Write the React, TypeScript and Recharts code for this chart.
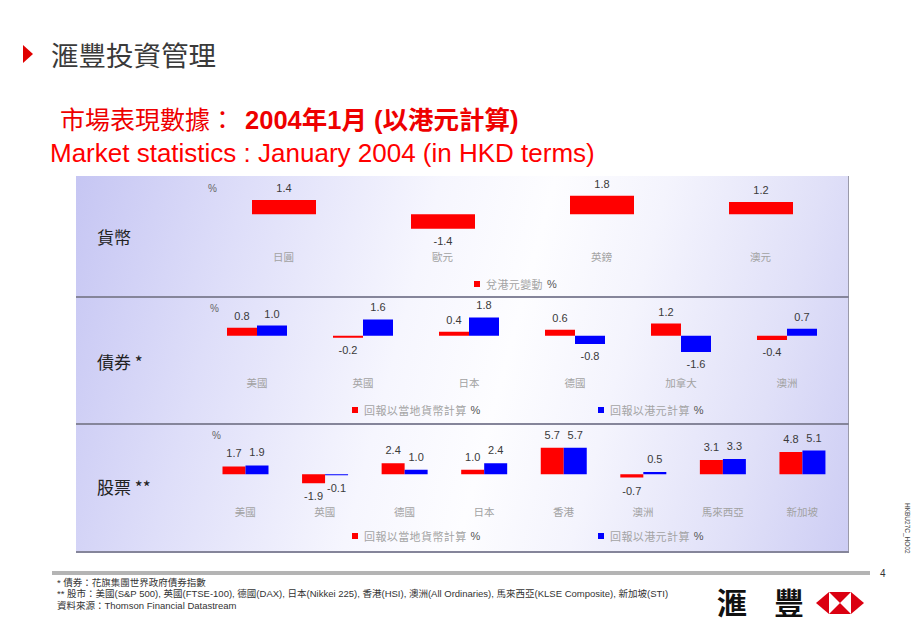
import React from 'react';
import { BarChart, Bar, XAxis, YAxis, LabelList } from 'recharts';

// ---------- data ----------
const currencyCategories = ['日圓', '歐元', '英鎊', '澳元'];
const currencyChange = [1.4, -1.4, 1.8, 1.2];

const bondCategories = ['美國', '英國', '日本', '德國', '加拿大', '澳洲'];
const bondLocal = [0.8, -0.2, 0.4, 0.6, 1.2, -0.4];
const bondHKD = [1.0, 1.6, 1.8, -0.8, -1.6, 0.7];

const equityCategories = ['美國', '英國', '德國', '日本', '香港', '澳洲', '馬來西亞', '新加坡'];
const equityLocal = [1.7, -1.9, 2.4, 1.0, 5.7, -0.7, 3.1, 4.8];
const equityHKD = [1.9, -0.1, 1.0, 2.4, 5.7, 0.5, 3.3, 5.1];

const rowTitles = ['貨幣', '債券 *', '股票 **'];
const fxSeriesName = '兌港元變動';
const localSeriesName = '回報以當地貨幣計算';
const hkdSeriesName = '回報以港元計算';

const footnotes = [
  '*  債券：花旗集團世界政府債券指數',
  '** 股市：美國(S&P 500), 英國(FTSE-100), 德國(DAX), 日本(Nikkei 225), 香港(HSI), 澳洲(All Ordinaries), 馬來西亞(KLSE Composite), 新加坡(STI)',
  '資料來源：Thomson Financial Datastream',
];

// ---------- styles ----------
const RED = '#ff0000';
const BLUE = '#0000ff';
const LATIN = '"Liberation Sans", Arial, "Noto Sans CJK TC", sans-serif';
const CJK = '"Noto Sans CJK TC", "Liberation Sans", sans-serif';

const currencyData = currencyCategories.map((name, i) => ({ name, fx: currencyChange[i] }));
const bondData = bondCategories.map((name, i) => ({ name, local: bondLocal[i], hkd: bondHKD[i] }));
const equityData = equityCategories.map((name, i) => ({ name, local: equityLocal[i], hkd: equityHKD[i] }));

const PANEL = { left: 76, top: 176, right: 849, bottom: 553 };

type Series = { key: string; name: string; color: string };
type Layout = {
  top: number;
  height: number;
  zeroY: number;
  ppu: number;
  domain: [number, number];
  labelY: number;
  barSize: number;
  labelOffset: number;
  plotLeft: number;
  plotRight: number;
};

const fxSeries: Series[] = [{ key: 'fx', name: fxSeriesName, color: RED }];
const twoSeries: Series[] = [
  { key: 'local', name: localSeriesName, color: RED },
  { key: 'hkd', name: hkdSeriesName, color: BLUE },
];

const row1: Layout = { top: 176, height: 121, zeroY: 214.3, ppu: 10.3, domain: [-3, 3], labelY: 256, barSize: 64, labelOffset: 12, plotLeft: 204, plotRight: 840 };
const row2: Layout = { top: 297, height: 126, zeroY: 335.8, ppu: 10.2, domain: [-3, 3], labelY: 382, barSize: 30, labelOffset: 12, plotLeft: 204, plotRight: 840 };
const row3: Layout = { top: 424, height: 129, zeroY: 474.3, ppu: 4.65, domain: [-5, 7], labelY: 511.5, barSize: 23, labelOffset: 13, plotLeft: 205.5, plotRight: 842 };

const CategoryTick = (props: any) => {
  const { x, y, payload } = props;
  return (
    <text x={x} y={y} textAnchor="middle" dominantBaseline="central" fontSize={10.5} fill="#a2a2a2" fontFamily={CJK}>
      {payload.value}
    </text>
  );
};

const makeValueLabel = (offset: number) => (props: any) => {
  const vb = props.viewBox || {};
  const x = Number(props.x ?? vb.x);
  const y = Number(props.y ?? vb.y);
  const w = Number(props.width ?? vb.width);
  const h = Number(props.height ?? vb.height);
  const v = Number(props.value);
  const top = Math.min(y, y + h);
  const bottom = Math.max(y, y + h);
  const cy = v >= 0 ? top - offset : bottom + offset;
  return (
    <text x={x + w / 2} y={cy} textAnchor="middle" dominantBaseline="central" fontSize={11} fill="#3a3a3a" fontFamily={LATIN}>
      {v.toFixed(1)}
    </text>
  );
};

function ChartRow({ data, series, layout }: { data: any[]; series: Series[]; layout: Layout }) {
  const [lo, hi] = layout.domain;
  const mTop = layout.zeroY - hi * layout.ppu - layout.top;
  const plotH = (hi - lo) * layout.ppu;
  const plotBottom = layout.top + mTop + plotH;
  const axisH = layout.height - mTop - plotH;
  const tickMargin = layout.labelY - plotBottom;
  const width = PANEL.right - PANEL.left;
  return (
    <div style={{ position: 'absolute', left: PANEL.left, top: layout.top, width, height: layout.height }}>
      <BarChart
        width={width}
        height={layout.height}
        data={data}
        margin={{ top: mTop, right: PANEL.right - layout.plotRight, bottom: 0, left: layout.plotLeft - PANEL.left }}
        barGap={0}
        barCategoryGap={0}
      >
        <XAxis
          dataKey="name"
          axisLine={false}
          tickLine={false}
          tickSize={0}
          tickMargin={tickMargin}
          height={axisH}
          interval={0}
          tick={<CategoryTick />}
        />
        <YAxis hide type="number" domain={layout.domain} allowDataOverflow />
        {series.map((s) => (
          <Bar key={s.key} dataKey={s.key} name={s.name} fill={s.color} barSize={layout.barSize} minPointSize={1} isAnimationActive={false}>
            <LabelList dataKey={s.key} content={makeValueLabel(layout.labelOffset)} />
          </Bar>
        ))}
      </BarChart>
    </div>
  );
}

function LegendItem({ x, y, color, name }: { x: number; y: number; color: string; name: string }) {
  return (
    <g>
      <rect x={x} y={y - 3} width={6} height={6} fill={color} />
      <text x={x + 12} y={y} dominantBaseline="central" fontSize={11} fill="#a4a4a4" fontFamily={CJK} letterSpacing={0.4}>
        {name}
        <tspan fill="#555" fontFamily={LATIN} dx={4}>%</tspan>
      </text>
    </g>
  );
}

export default function App() {
  return (
    <div style={{ position: 'absolute', left: 0, top: 0, width: 920, height: 637, background: '#fff', overflow: 'hidden' }}>
      {/* panel background */}
      <div
        style={{
          position: 'absolute',
          left: PANEL.left,
          top: PANEL.top,
          width: PANEL.right - PANEL.left,
          height: PANEL.bottom - PANEL.top,
          background:
            'linear-gradient(105deg, #c6c6f3 0%, #dedef9 20%, #f6f6fe 42%, #fdfdff 55%, #f4f4fd 68%, #e0e0f8 86%, #cdcdf4 100%)',
          borderRight: '1px solid #9a9aaa',
          boxSizing: 'border-box',
        }}
      />
      {/* row dividers */}
      {[297, 423.5, 552].map((y) => (
        <div key={y} style={{ position: 'absolute', left: PANEL.left, top: y - 1, width: PANEL.right - PANEL.left, height: 2, background: '#85859a' }} />
      ))}

      <ChartRow data={currencyData} series={fxSeries} layout={row1} />
      <ChartRow data={bondData} series={twoSeries} layout={row2} />
      <ChartRow data={equityData} series={twoSeries} layout={row3} />

      <svg width={920} height={637} style={{ position: 'absolute', left: 0, top: 0, pointerEvents: 'none' }}>
        {/* title */}
        <polygon points="23,45 33,54 23,63" fill="#e00000" />
        <text x={51} y={65.5} fontSize={27.5} fill="#3a3a3a" fontFamily={CJK}>滙豐投資管理</text>
        <text x={60} y={128.5} fontSize={25} fill="#ee0000" fontFamily={CJK}>
          <tspan fontWeight={400}>市場表現數據：</tspan>
          <tspan fontWeight={700} fontFamily={LATIN} fontSize={25.5} dx={10}>2004年1月 (以港元計算)</tspan>
        </text>
        <text x={50} y={162} fontSize={26} fill="#ff0000" fontFamily={LATIN}>
          Market statistics : January 2004 (in HKD terms)
        </text>

        {/* row titles */}
        <text x={97} y={243.5} fontSize={17} fill="#222" fontFamily={CJK}>{rowTitles[0]}</text>
        <text x={97} y={368.5} fontSize={17} fill="#222" fontFamily={CJK}>{rowTitles[1]}</text>
        <text x={97} y={493.5} fontSize={17} fill="#222" fontFamily={CJK}>{rowTitles[2]}</text>

        {/* % unit labels */}
        <text x={208} y={191.5} fontSize={10} fill="#666" fontFamily={LATIN}>%</text>
        <text x={210} y={311.5} fontSize={10} fill="#666" fontFamily={LATIN}>%</text>
        <text x={212} y={438.5} fontSize={10} fill="#666" fontFamily={LATIN}>%</text>

        {/* legends */}
        <LegendItem x={474} y={284} color={RED} name={fxSeries[0].name} />
        <LegendItem x={352} y={410} color={RED} name={twoSeries[0].name} />
        <LegendItem x={598} y={410} color={BLUE} name={twoSeries[1].name} />
        <LegendItem x={352} y={536} color={RED} name={twoSeries[0].name} />
        <LegendItem x={598} y={536} color={BLUE} name={twoSeries[1].name} />

        {/* footer */}
        <rect x={52} y={571} width={818} height={4} fill="#b4b4b4" />
        <text x={880} y={576.5} fontSize={10} fill="#333" fontFamily={LATIN}>4</text>
        {footnotes.map((t, i) => (
          <text key={i} x={57} y={585.5 + i * 11.5} fontSize={9.5} fill="#333" fontFamily={LATIN}>{t}</text>
        ))}

        {/* logo */}
        <text x={717} y={614} fontSize={30} fontWeight={700} fill="#111" fontFamily={CJK}>滙</text>
        <text x={774} y={614} fontSize={30} fontWeight={700} fill="#111" fontFamily={CJK}>豐</text>
        <polygon points="816,603 829,592 829,614" fill="#db0011" />
        <polygon points="864,603 851,592 851,614" fill="#db0011" />
        <polygon points="829,592 851,592 840,603" fill="#db0011" />
        <polygon points="829,614 851,614 840,603" fill="#db0011" />

        {/* rotated code */}
        <text transform="translate(905,503) rotate(90)" fontSize={6.5} fill="#444" fontFamily={LATIN}>HKBU27C_HO02</text>
      </svg>
    </div>
  );
}
